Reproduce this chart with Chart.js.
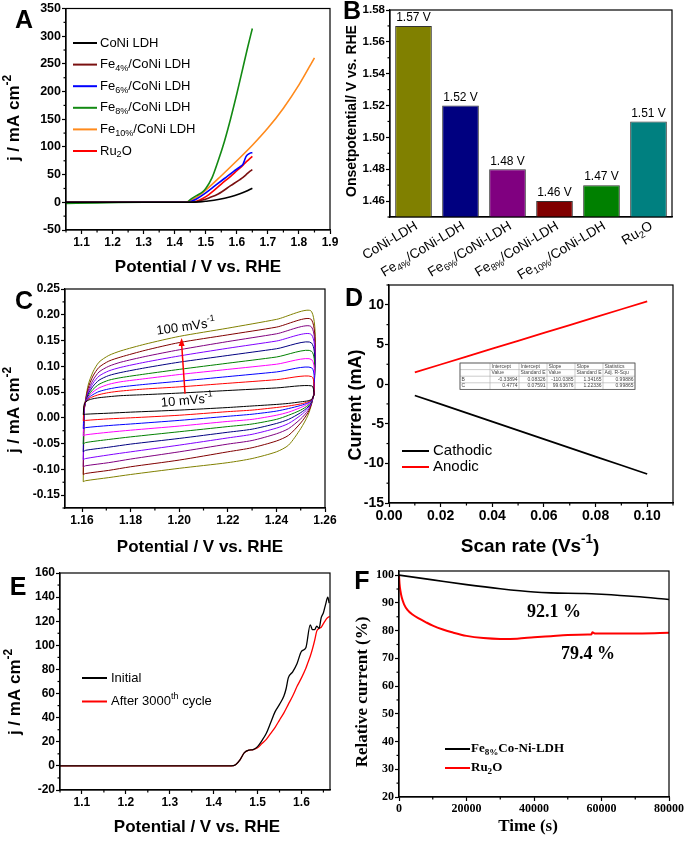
<!DOCTYPE html>
<html>
<head>
<meta charset="utf-8">
<script src="https://cdn.jsdelivr.net/npm/chart.js@4.4.0/dist/chart.umd.min.js"></script>
<style>
  html, body { margin: 0; padding: 0; background: #fff; width: 685px; height: 842px; overflow: hidden; }
  canvas { position: absolute; left: 0; top: 0; pointer-events: none; }
</style>
</head>
<body>
<canvas id="panelA" width="685" height="842"></canvas>
<canvas id="panelB" width="685" height="842"></canvas>
<canvas id="panelC" width="685" height="842"></canvas>
<canvas id="panelD" width="685" height="842"></canvas>
<canvas id="panelE" width="685" height="842"></canvas>
<canvas id="panelF" width="685" height="842"></canvas>
<script>
// ---------- data ----------

// A: LSV polarisation curves, [potential V, j mA cm-2]
const lsvCoNi = [[1.05, 0], [1.45, 0], [1.48, 0.8], [1.50, 2], [1.54, 5], [1.58, 10], [1.61, 15.5], [1.63, 20], [1.65, 25.5]];
const lsvFe4 = [[1.05, 0], [1.45, 0], [1.47, 1], [1.49, 4], [1.51, 8], [1.54, 15], [1.58, 30], [1.61, 41], [1.62, 45], [1.63, 50], [1.64, 55], [1.65, 59]];
const lsvFe6 = [[1.05, 0], [1.44, 0], [1.45, 1], [1.47, 6], [1.50, 17], [1.53, 30], [1.56, 43], [1.59, 56], [1.61, 64], [1.62, 69], [1.625, 76], [1.63, 83], [1.64, 88], [1.65, 90]];
const lsvFe8 = [[1.05, -2], [1.15, -1], [1.30, 0], [1.44, 0], [1.45, 5], [1.47, 12], [1.49, 19], [1.50, 25], [1.52, 44], [1.54, 75], [1.56, 110], [1.58, 151], [1.60, 196], [1.62, 244], [1.635, 280], [1.65, 314]];
const lsvFe10 = [[1.05, 0], [1.43, 0], [1.44, 1], [1.46, 6], [1.48, 13], [1.50, 22], [1.55, 48], [1.60, 75], [1.65, 103], [1.70, 134], [1.75, 170], [1.80, 212], [1.85, 261]];
const lsvRu2O = [[1.05, 0], [1.45, 0], [1.47, 2], [1.49, 7], [1.51, 14], [1.55, 33], [1.58, 47], [1.60, 57], [1.62, 67], [1.63, 73], [1.64, 78], [1.65, 83]];
const lsvTicksX = [1.1, 1.2, 1.3, 1.4, 1.5, 1.6, 1.7, 1.8, 1.9];
const lsvTicksY = [-50, 0, 50, 100, 150, 200, 250, 300, 350];

// B: onset potentials
const onsetLabels = ['CoNi-LDH', 'Fe_{4%}/CoNi-LDH', 'Fe_{6%}/CoNi-LDH', 'Fe_{8%}/CoNi-LDH', 'Fe_{10%}/CoNi-LDH', 'Ru_{2}O'];
const onsetValues = [1.57, 1.52, 1.48, 1.46, 1.47, 1.51];
const onsetTicksY = [1.46, 1.48, 1.50, 1.52, 1.54, 1.56, 1.58];

// C: CV loops, 10 -> 100 mV/s
const cvScanRates = [10, 20, 30, 40, 50, 60, 70, 80, 90, 100];
const cvUpperX = [1.1605, 1.161, 1.1625, 1.1645, 1.167, 1.171, 1.176, 1.186, 1.200, 1.220, 1.240, 1.2545];
const cvLowerX = [1.2555, 1.2545, 1.253, 1.250, 1.245, 1.240, 1.230, 1.220, 1.200, 1.180, 1.171, 1.1615, 1.1605];
const cvUpper = [
  [0.006, 0.028, 0.034, 0.037, 0.039, 0.041, 0.043, 0.045, 0.048, 0.053, 0.058, 0.062],
  [-0.006, 0.026, 0.036, 0.041, 0.045, 0.049, 0.052, 0.056, 0.060, 0.067, 0.074, 0.080],
  [-0.021, 0.024, 0.038, 0.045, 0.051, 0.056, 0.060, 0.065, 0.071, 0.080, 0.089, 0.097],
  [-0.035, 0.023, 0.040, 0.050, 0.058, 0.065, 0.070, 0.076, 0.084, 0.094, 0.104, 0.113],
  [-0.051, 0.022, 0.042, 0.055, 0.065, 0.073, 0.078, 0.085, 0.094, 0.106, 0.118, 0.129],
  [-0.066, 0.021, 0.045, 0.061, 0.073, 0.082, 0.088, 0.097, 0.108, 0.121, 0.134, 0.145],
  [-0.081, 0.020, 0.048, 0.067, 0.081, 0.091, 0.098, 0.108, 0.120, 0.135, 0.149, 0.161],
  [-0.095, 0.019, 0.052, 0.073, 0.089, 0.100, 0.108, 0.119, 0.132, 0.148, 0.163, 0.176],
  [-0.110, 0.018, 0.057, 0.081, 0.098, 0.110, 0.118, 0.131, 0.146, 0.161, 0.176, 0.190],
  [-0.124, 0.017, 0.063, 0.089, 0.108, 0.121, 0.130, 0.143, 0.158, 0.174, 0.191, 0.206]
];
const cvLower = [
  [0.045, 0.036, 0.033, 0.031, 0.028, 0.026, 0.023, 0.020, 0.015, 0.011, 0.009, 0.007, 0.006],
  [0.046, 0.035, 0.031, 0.027, 0.023, 0.020, 0.015, 0.012, 0.005, 0.000, -0.002, -0.005, -0.006],
  [0.047, 0.034, 0.029, 0.024, 0.018, 0.013, 0.007, 0.003, -0.005, -0.012, -0.015, -0.019, -0.021],
  [0.048, 0.033, 0.027, 0.020, 0.011, 0.005, -0.003, -0.007, -0.016, -0.024, -0.028, -0.033, -0.035],
  [0.049, 0.032, 0.024, 0.015, 0.005, -0.003, -0.012, -0.017, -0.027, -0.037, -0.042, -0.048, -0.051],
  [0.050, 0.031, 0.021, 0.010, -0.003, -0.011, -0.022, -0.028, -0.040, -0.051, -0.057, -0.063, -0.066],
  [0.051, 0.030, 0.018, 0.005, -0.011, -0.020, -0.032, -0.039, -0.053, -0.066, -0.072, -0.079, -0.081],
  [0.052, 0.029, 0.014, -0.002, -0.021, -0.031, -0.044, -0.051, -0.066, -0.080, -0.087, -0.093, -0.095],
  [0.053, 0.028, 0.010, -0.010, -0.034, -0.045, -0.058, -0.066, -0.082, -0.095, -0.102, -0.108, -0.110],
  [0.054, 0.027, 0.005, -0.021, -0.053, -0.066, -0.079, -0.087, -0.098, -0.110, -0.116, -0.122, -0.124]
];
const cvTicksX = [1.16, 1.18, 1.20, 1.22, 1.24, 1.26];
const cvTicksY = [-0.15, -0.10, -0.05, 0.00, 0.05, 0.10, 0.15, 0.20, 0.25];

// D: current vs scan rate
const scanRate = [0.01, 0.02, 0.03, 0.04, 0.05, 0.06, 0.07, 0.08, 0.09, 0.10];
const cathodic = [-1.44, -2.54, -3.64, -4.74, -5.84, -6.94, -8.04, -9.14, -10.24, -11.34];
const anodic = [1.47, 2.47, 3.47, 4.46, 5.46, 6.46, 7.45, 8.45, 9.44, 10.44];
const dlTicksX = [0.00, 0.02, 0.04, 0.06, 0.08, 0.10];
const dlTicksY = [-15, -10, -5, 0, 5, 10];
const fitTable = [
  ['', 'Intercept', 'Intercept', 'Slope', 'Slope', 'Statistics'],
  ['', 'Value', 'Standard E', 'Value', 'Standard E', 'Adj. R-Squ'],
  ['B', '-0.33894', '0.08326', '-110.0385', '1.34165', '0.99886'],
  ['C', '0.4774', '0.07591', '99.63676', '1.22336', '0.99865']
];

// E: LSV before / after cycling
const lsvInitial = [[1.05, 0], [1.44, 0], [1.45, 1], [1.46, 5], [1.47, 11], [1.48, 13], [1.49, 13.5], [1.50, 16], [1.51, 21], [1.52, 27], [1.53, 36], [1.54, 45], [1.55, 51], [1.56, 58], [1.565, 64], [1.57, 73], [1.58, 78], [1.59, 85], [1.60, 95], [1.61, 98], [1.62, 117], [1.625, 113], [1.63, 113], [1.635, 116], [1.64, 114], [1.645, 123], [1.65, 127], [1.655, 134], [1.66, 140], [1.663, 135]];
const lsvCycled = [[1.05, 0], [1.44, 0], [1.45, 1], [1.46, 5], [1.47, 11], [1.48, 13], [1.49, 13.5], [1.50, 15], [1.51, 18.5], [1.52, 22], [1.53, 27], [1.54, 32], [1.55, 38], [1.56, 44], [1.57, 51], [1.58, 58], [1.59, 66], [1.60, 73], [1.61, 81], [1.615, 86], [1.62, 91], [1.625, 97], [1.63, 104], [1.635, 112], [1.64, 114], [1.645, 115], [1.65, 118], [1.655, 121], [1.66, 123], [1.664, 124]];
const stabTicksX = [1.1, 1.2, 1.3, 1.4, 1.5, 1.6];
const stabTicksY = [-20, 0, 20, 40, 60, 80, 100, 120, 140, 160];

// F: chronoamperometry, [time s, relative current %]
const chronoFe8 = [[0, 100], [10000, 98.3], [20000, 96.6], [30000, 95.1], [40000, 93.9], [45000, 93.6], [55000, 93.4], [60000, 93.1], [70000, 92.3], [80000, 91.2]];
const chronoRu2O = [[0, 100], [150, 97], [400, 94.5], [800, 92], [1500, 89.5], [2500, 87.5], [4000, 85.8], [6000, 84.3], [8000, 83], [10000, 81.8], [13000, 80.4], [16000, 79.3], [20000, 78.1], [25000, 77.3], [30000, 77], [35000, 77.1], [40000, 77.6], [45000, 78], [50000, 78.4], [56000, 78.6], [57000, 78.6], [57300, 79.4], [58000, 79], [65000, 79], [72000, 79], [80000, 79.2]];
const timeTicksX = [0, 20000, 40000, 60000, 80000];
const timeTicksY = [20, 30, 40, 50, 60, 70, 80, 90, 100];

// ---------- helpers ----------
const W = 685, H = 842;
const SANS = '"Liberation Sans", Arial, Helvetica, sans-serif';
const SERIF = '"Liberation Serif", "Times New Roman", serif';
const decorations = {};

const pts = arr => arr.map(p => ({ x: p[0], y: p[1] }));

// midpoints between major ticks (plus half a step outside) for minor tick marks
function minorOf(ticks, min, max) {
  const step = ticks[1] - ticks[0];
  const out = [];
  for (let v = ticks[0] - step / 2; v <= max + 1e-9; v += step) {
    if (v >= min - 1e-9) out.push(v);
  }
  return out;
}

// text with _{sub} and ^{sup} runs
function richParts(str) {
  const parts = [];
  const re = /([_^])\{([^}]*)\}/g;
  let last = 0, m;
  while ((m = re.exec(str))) {
    if (m.index > last) parts.push({ t: str.slice(last, m.index), k: '' });
    parts.push({ t: m[2], k: m[1] });
    last = re.lastIndex;
  }
  if (last < str.length) parts.push({ t: str.slice(last), k: '' });
  return parts;
}

function drawRich(ctx, str, x, y, o) {
  const size = o.size || 12, weight = o.weight || 'normal', family = o.family || SANS;
  const font = s => `${weight} ${s}px ${family}`;
  const parts = richParts(str);
  let total = 0;
  parts.forEach(p => {
    p.s = p.k ? size * 0.7 : size;
    ctx.font = font(p.s);
    p.w = ctx.measureText(p.t).width;
    total += p.w;
  });
  ctx.save();
  ctx.translate(x, y);
  if (o.rotate) ctx.rotate(o.rotate * Math.PI / 180);
  ctx.fillStyle = o.color || '#000';
  ctx.textBaseline = 'middle';
  ctx.textAlign = 'left';
  let cx = o.align === 'center' ? -total / 2 : o.align === 'right' ? -total : 0;
  parts.forEach(p => {
    ctx.font = font(p.s);
    const dy = p.k === '_' ? size * 0.3 : p.k === '^' ? -size * 0.38 : 0;
    ctx.fillText(p.t, cx, dy);
    cx += p.w;
  });
  ctx.restore();
}

function drawLegend(ctx, datasets, x0, x1, tx, y0, dy, font) {
  datasets.forEach((ds, i) => {
    const y = y0 + i * dy;
    ctx.save();
    ctx.strokeStyle = ds.borderColor;
    ctx.lineWidth = 2;
    ctx.beginPath();
    ctx.moveTo(x0, y);
    ctx.lineTo(x1, y);
    ctx.stroke();
    ctx.restore();
    drawRich(ctx, ds.label, tx, y, font);
  });
}

function letter(ctx, ch, x, y) {
  drawRich(ctx, ch, x, y, { size: 25, weight: 'bold', align: 'center' });
}

Chart.register({
  id: 'decor',
  afterDraw(chart) {
    const d = decorations[chart.canvas.id];
    if (!d) return;
    const ctx = chart.ctx, a = chart.chartArea;
    ctx.save();
    ctx.strokeStyle = '#000';
    ctx.lineWidth = 1.2;
    ctx.strokeRect(a.left, a.top, a.right - a.left, a.bottom - a.top);
    (d.minorX || []).forEach(v => {
      const px = chart.scales.x.getPixelForValue(v);
      ctx.beginPath(); ctx.moveTo(px, a.bottom); ctx.lineTo(px, a.bottom + 2.5); ctx.stroke();
    });
    (d.minorY || []).forEach(v => {
      const py = chart.scales.y.getPixelForValue(v);
      ctx.beginPath(); ctx.moveTo(a.left, py); ctx.lineTo(a.left - 2.5, py); ctx.stroke();
    });
    ctx.restore();
    if (d.draw) d.draw(chart, ctx, a);
  }
});

function linAxis(min, max, ticks, fmt, font) {
  return {
    type: 'linear', min, max,
    afterBuildTicks: s => { s.ticks = ticks.map(v => ({ value: v })); },
    ticks: { color: '#000', font, padding: 1, autoSkip: false, maxRotation: 0, callback: v => fmt(v) },
    grid: { display: true, drawOnChartArea: false, drawTicks: true, tickLength: 4, tickColor: '#000', tickWidth: 1.2 },
    border: { display: true, color: '#000', width: 1.2 }
  };
}

function makeChart(id, type, data, box, scales) {
  scales.x.afterFit = s => { s.height = 30; };
  scales.y.afterFit = s => { s.width = 40; };
  return new Chart(document.getElementById(id), {
    type, data,
    options: {
      responsive: false, animation: false, devicePixelRatio: 1,
      layout: { autoPadding: false, padding: { left: box.l - 40, top: box.t, right: W - box.r, bottom: H - box.b - 30 } },
      plugins: { legend: { display: false }, tooltip: { enabled: false } },
      elements: { point: { radius: 0 } },
      scales
    }
  });
}

const tickSans = { family: SANS, size: 12, weight: 'bold' };
const line = (label, arr, color, width) => ({
  label, data: pts(arr), borderColor: color, backgroundColor: color, borderWidth: width,
  showLine: true, pointRadius: 0, cubicInterpolationMode: 'monotone', fill: false
});

// ---------- A ----------
decorations.panelA = {
  minorX: minorOf(lsvTicksX, 1.05, 1.9),
  minorY: minorOf(lsvTicksY, -50, 350),
  draw(chart, ctx) {
    letter(ctx, 'A', 24, 21);
    drawRich(ctx, 'j / mA cm^{-2}', 14, 118, { size: 17, weight: 'bold', align: 'center', rotate: -90 });
    drawRich(ctx, 'Potential / V vs. RHE', 198, 267, { size: 17, weight: 'bold', align: 'center' });
    drawLegend(ctx, chart.data.datasets, 73, 97, 100, 43, 21.6, { size: 13 });
  }
};
makeChart('panelA', 'scatter', {
  datasets: [
    line('CoNi LDH', lsvCoNi, '#000000', 1.6),
    line('Fe_{4%}/CoNi LDH', lsvFe4, '#7a1010', 1.6),
    line('Fe_{6%}/CoNi LDH', lsvFe6, '#0000ff', 1.6),
    line('Fe_{8%}/CoNi LDH', lsvFe8, '#138a13', 1.6),
    line('Fe_{10%}/CoNi LDH', lsvFe10, '#ff8a1c', 1.6),
    line('Ru_{2}O', lsvRu2O, '#ff0000', 1.6)
  ]
}, { l: 66, t: 8, r: 330, b: 230 }, {
  x: linAxis(1.05, 1.9, lsvTicksX, v => v.toFixed(1), tickSans),
  y: linAxis(-50, 350, lsvTicksY, v => String(v), { family: SANS, size: 12.5, weight: 'bold' })
});

// ---------- B ----------
decorations.panelB = {
  minorY: minorOf(onsetTicksY, 1.45, 1.58),
  draw(chart, ctx, a) {
    letter(ctx, 'B', 352, 12);
    drawRich(ctx, 'Onsetpotential/ V vs. RHE', 352, 111, { size: 14, weight: 'bold', align: 'center', rotate: -90 });
    const bars = chart.getDatasetMeta(0).data;
    bars.forEach((bar, i) => {
      drawRich(ctx, onsetValues[i].toFixed(2) + ' V', bar.x, bar.y - 8, { size: 12, align: 'center' });
      drawRich(ctx, onsetLabels[i], bar.x + 3, a.bottom + 8, { size: 13.5, align: 'right', rotate: -31 });
    });
  }
};
makeChart('panelB', 'bar', {
  labels: onsetLabels,
  datasets: [{
    data: onsetValues,
    backgroundColor: ['#808000', '#000080', '#800080', '#800000', '#008000', '#008080'],
    borderColor: '#333', borderWidth: 1, borderSkipped: false,
    barPercentage: 0.78, categoryPercentage: 1
  }]
}, { l: 390, t: 10, r: 672, b: 217 }, {
  x: { type: 'category', ticks: { display: false }, grid: { display: false }, border: { display: true, color: '#000', width: 1.2 } },
  y: linAxis(1.45, 1.58, onsetTicksY, v => v.toFixed(2), { family: SANS, size: 11.5, weight: 'bold' })
});

// ---------- C ----------
const cvColors = ['#000000', '#ff0000', '#0000ff', '#ff00ff', '#008000', '#000080', '#8000ff', '#800080', '#800000', '#808000'];
decorations.panelC = {
  minorX: minorOf(cvTicksX, 1.153, 1.26),
  minorY: minorOf(cvTicksY, -0.175, 0.25),
  draw(chart, ctx) {
    letter(ctx, 'C', 24, 302);
    drawRich(ctx, 'j / mA cm^{-2}', 14, 410, { size: 17, weight: 'bold', align: 'center', rotate: -90 });
    drawRich(ctx, 'Potential / V vs. RHE', 200, 547, { size: 17, weight: 'bold', align: 'center' });
    const xs = chart.scales.x, ys = chart.scales.y;
    const x0 = xs.getPixelForValue(1.2024), y0 = ys.getPixelForValue(0.047);
    const x1 = xs.getPixelForValue(1.2010), y1 = ys.getPixelForValue(0.155);
    ctx.save();
    ctx.strokeStyle = '#ff0000'; ctx.fillStyle = '#ff0000'; ctx.lineWidth = 1.5;
    ctx.beginPath(); ctx.moveTo(x0, y0); ctx.lineTo(x1, y1 + 6); ctx.stroke();
    ctx.beginPath(); ctx.moveTo(x1, y1); ctx.lineTo(x1 - 3, y1 + 8); ctx.lineTo(x1 + 3, y1 + 8); ctx.closePath(); ctx.fill();
    ctx.restore();
    drawRich(ctx, '100 mVs^{-1}', 186, 327, { size: 13, align: 'center', rotate: -8 });
    drawRich(ctx, '10 mVs^{-1}', 187, 401, { size: 13, align: 'center', rotate: -5 });
  }
};
makeChart('panelC', 'scatter', {
  datasets: cvScanRates.map((r, k) => ({
    label: r + ' mV/s',
    data: cvUpperX.map((x, i) => ({ x, y: cvUpper[k][i] })).concat(cvLowerX.map((x, i) => ({ x, y: cvLower[k][i] }))),
    borderColor: cvColors[k], borderWidth: 1, showLine: true, pointRadius: 0, tension: 0.25, fill: false
  }))
}, { l: 65, t: 289, r: 325, b: 508 }, {
  x: linAxis(1.153, 1.26, cvTicksX, v => v.toFixed(2), tickSans),
  y: linAxis(-0.175, 0.25, cvTicksY, v => v.toFixed(2), tickSans)
});

// ---------- D ----------
decorations.panelD = {
  minorX: minorOf(dlTicksX, 0, 0.11),
  minorY: minorOf(dlTicksY, -15, 12.5),
  draw(chart, ctx) {
    letter(ctx, 'D', 354, 299);
    drawRich(ctx, 'Current (mA)', 356, 405, { size: 18, weight: 'bold', align: 'center', rotate: -90 });
    drawRich(ctx, 'Scan rate (Vs^{-1})', 530, 547, { size: 19, weight: 'bold', align: 'center' });
    drawLegend(ctx, chart.data.datasets, 402, 429, 433, 451, 16, { size: 15 });
    // fit-result inset table
    const cols = [460, 490, 519, 547, 575, 603, 635];
    const rows = [363, 369.6, 376.2, 382.8, 389.4];
    ctx.save();
    ctx.fillStyle = '#fff';
    ctx.fillRect(cols[0], rows[0], cols[6] - cols[0], rows[4] - rows[0]);
    ctx.strokeStyle = '#aaa'; ctx.lineWidth = 0.6;
    cols.forEach(c => { ctx.beginPath(); ctx.moveTo(c, rows[0]); ctx.lineTo(c, rows[4]); ctx.stroke(); });
    rows.forEach(r => { ctx.beginPath(); ctx.moveTo(cols[0], r); ctx.lineTo(cols[6], r); ctx.stroke(); });
    ctx.strokeStyle = '#555'; ctx.lineWidth = 0.8;
    ctx.strokeRect(cols[0], rows[0], cols[6] - cols[0], rows[4] - rows[0]);
    ctx.fillStyle = '#444';
    ctx.font = `5px ${SANS}`;
    ctx.textBaseline = 'middle';
    fitTable.forEach((row, ri) => {
      row.forEach((cell, ci) => {
        const cy = (rows[ri] + rows[ri + 1]) / 2;
        if (ri < 2 || ci === 0) { ctx.textAlign = 'left'; ctx.fillText(cell, cols[ci] + 1.5, cy); }
        else { ctx.textAlign = 'right'; ctx.fillText(cell, cols[ci + 1] - 1.5, cy); }
      });
    });
    ctx.restore();
  }
};
makeChart('panelD', 'scatter', {
  datasets: [
    { label: 'Cathodic', data: scanRate.map((x, i) => ({ x, y: cathodic[i] })), borderColor: '#000', backgroundColor: '#000', borderWidth: 1.8, showLine: true, pointRadius: 0 },
    { label: 'Anodic', data: scanRate.map((x, i) => ({ x, y: anodic[i] })), borderColor: '#ff0000', backgroundColor: '#ff0000', borderWidth: 1.8, showLine: true, pointRadius: 0 }
  ]
}, { l: 389, t: 285, r: 673, b: 503 }, {
  x: linAxis(0, 0.11, dlTicksX, v => v.toFixed(2), { family: SANS, size: 14, weight: 'bold' }),
  y: linAxis(-15, 12.5, dlTicksY, v => String(v), { family: SANS, size: 14, weight: 'bold' })
});

// ---------- E ----------
decorations.panelE = {
  minorX: minorOf(stabTicksX, 1.05, 1.665),
  minorY: minorOf(stabTicksY, -20, 160),
  draw(chart, ctx) {
    letter(ctx, 'E', 18, 588);
    drawRich(ctx, 'j / mA cm^{-2}', 15, 692, { size: 17, weight: 'bold', align: 'center', rotate: -90 });
    drawRich(ctx, 'Potential / V vs. RHE', 197, 827, { size: 17, weight: 'bold', align: 'center' });
    drawLegend(ctx, chart.data.datasets, 82, 107, 111, 678, 23.5, { size: 13 });
  }
};
makeChart('panelE', 'scatter', {
  datasets: [
    line('Initial', lsvInitial, '#000000', 1.3),
    line('After 3000^{th} cycle', lsvCycled, '#ff0000', 1.3)
  ]
}, { l: 60, t: 573, r: 330, b: 790 }, {
  x: linAxis(1.05, 1.665, stabTicksX, v => v.toFixed(1), tickSans),
  y: linAxis(-20, 160, stabTicksY, v => String(v), tickSans)
});

// ---------- F ----------
const tickSerif = { family: SERIF, size: 12, weight: 'bold' };
decorations.panelF = {
  minorX: minorOf(timeTicksX, 0, 80000),
  minorY: minorOf(timeTicksY, 20, 101.5),
  draw(chart, ctx) {
    letter(ctx, 'F', 362, 582);
    drawRich(ctx, 'Relative current (%)', 363, 692, { size: 17, weight: 'bold', family: SERIF, align: 'center', rotate: -90 });
    drawRich(ctx, 'Time (s)', 528, 827, { size: 17, weight: 'bold', family: SERIF, align: 'center' });
    drawRich(ctx, '92.1 %', 554, 612, { size: 18, weight: 'bold', family: SERIF, align: 'center' });
    drawRich(ctx, '79.4 %', 588, 654, { size: 18, weight: 'bold', family: SERIF, align: 'center' });
    drawLegend(ctx, chart.data.datasets, 445, 470, 471, 749, 19, { size: 13, weight: 'bold', family: SERIF });
  }
};
makeChart('panelF', 'scatter', {
  datasets: [
    line('Fe_{8%}Co-Ni-LDH', chronoFe8, '#000000', 1.6),
    line('Ru_{2}O', chronoRu2O, '#ff0000', 2)
  ]
}, { l: 399, t: 571, r: 669, b: 797 }, {
  x: linAxis(0, 80000, timeTicksX, v => String(v), tickSerif),
  y: linAxis(20, 101.5, timeTicksY, v => String(v), tickSerif)
});
</script>
</body>
</html>
